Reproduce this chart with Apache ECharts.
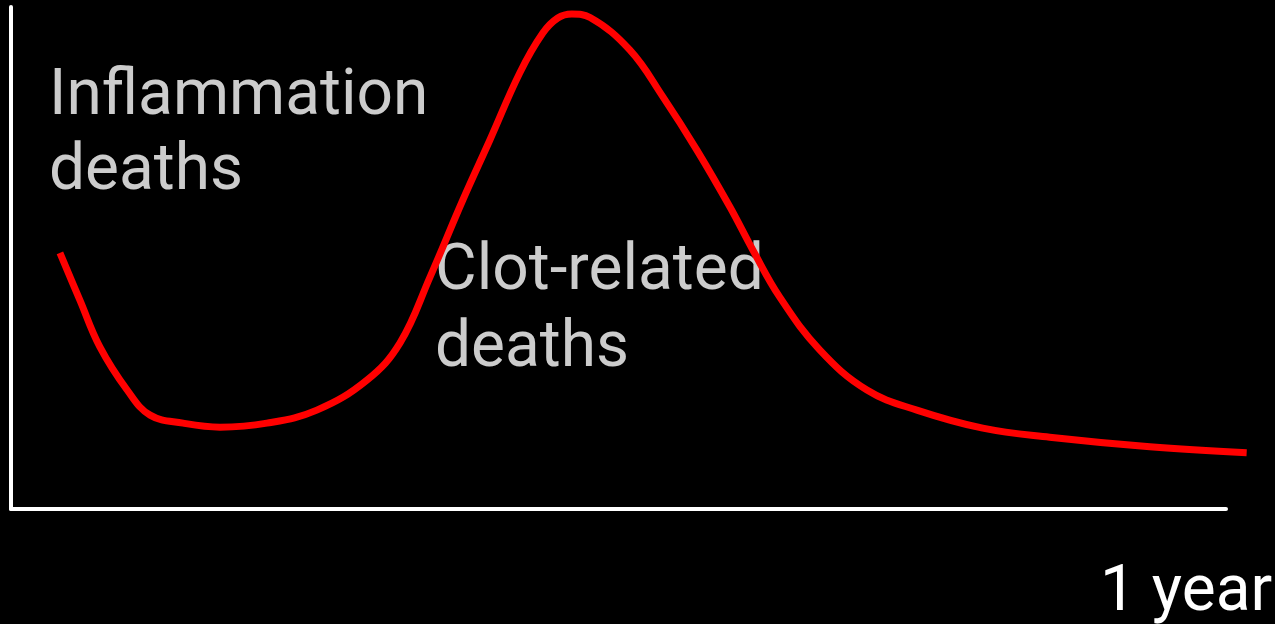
<!DOCTYPE html>
<html>
<head>
<meta charset="utf-8">
<script src="https://cdn.jsdelivr.net/npm/echarts@6/dist/echarts.min.js"></script>
<style>
  html, body { margin: 0; padding: 0; background: #000; }
  #chart { width: 1275px; height: 624px; }
</style>
</head>
<body>
<div id="chart"></div>
<script>
// days since infection
const days = [14.7, 20.7, 26.7, 34.9, 41.8, 51.7, 62.8, 76.9, 91.9, 107.0, 116.9, 125.9,
  135.8, 143.9, 152.9, 159.8, 164.3, 168.5, 174.0, 186.0, 195.9, 206.1, 216.0,
  222.9, 231.0, 243.0, 257.2, 272.2, 292.0, 312.1, 342.2, 371.3]
// relative death rate (0-100)
const deaths = [51.0, 41.6, 32.3, 23.7, 18.7, 17.1, 16.3, 17.1, 19.7, 25.7, 33.1, 46.2,
  61.6, 73.5, 86.9, 94.8, 97.8, 98.6, 97.9, 91.4, 82.1, 71.5, 60.2,
  51.6, 42.2, 31.7, 23.7, 19.7, 16.1, 14.3, 12.4, 11.2]

const chart = echarts.init(document.getElementById('chart'))

const labelFont = '64px Roboto'
const hidden = {
  axisLine: { show: false },
  axisTick: { show: false },
  axisLabel: { show: false },
  splitLine: { show: false }
}
const whiteAxis = {
  axisLine: { show: true, lineStyle: { color: '#fff', width: 4 } },
  axisTick: { show: false },
  axisLabel: { show: false },
  splitLine: { show: false }
}

chart.setOption({
  backgroundColor: '#000',
  animation: false,
  // grid 0 draws the axes (x ends at 1 year), grid 1 holds the curve which runs a bit past it
  grid: [
    { left: 11, right: 49, top: 7, bottom: 115 },
    { left: 11, right: 26, top: 7, bottom: 115 }
  ],
  xAxis: [
    { type: 'value', gridIndex: 0, min: 0, max: 365, ...whiteAxis },
    { type: 'value', gridIndex: 1, min: 0, max: 372, ...hidden }
  ],
  yAxis: [
    { type: 'value', gridIndex: 0, min: 0, max: 100, ...whiteAxis },
    { type: 'value', gridIndex: 1, min: 0, max: 100, ...hidden }
  ],
  series: [{
    type: 'line',
    xAxisIndex: 1,
    yAxisIndex: 1,
    data: days.map((d, i) => [d, deaths[i]]),
    smooth: 0.4,
    clip: false,
    showSymbol: false,
    lineStyle: { color: '#ff0000', width: 7, cap: 'butt' }
  }],
  graphic: [
    {
      type: 'text', left: 49, top: 60,
      style: { text: 'Inflammation\ndeaths', font: labelFont, fill: '#cccccc', lineHeight: 75 }
    },
    {
      type: 'text', left: 435, top: 234,
      style: { text: 'Clot-related\ndeaths', font: labelFont, fill: '#cccccc', lineHeight: 77 }
    },
    {
      type: 'text', left: 1100, top: 556,
      style: { text: '1 year', font: labelFont, fill: '#ffffff', lineHeight: 75 }
    }
  ]
})
</script>
</body>
</html>
